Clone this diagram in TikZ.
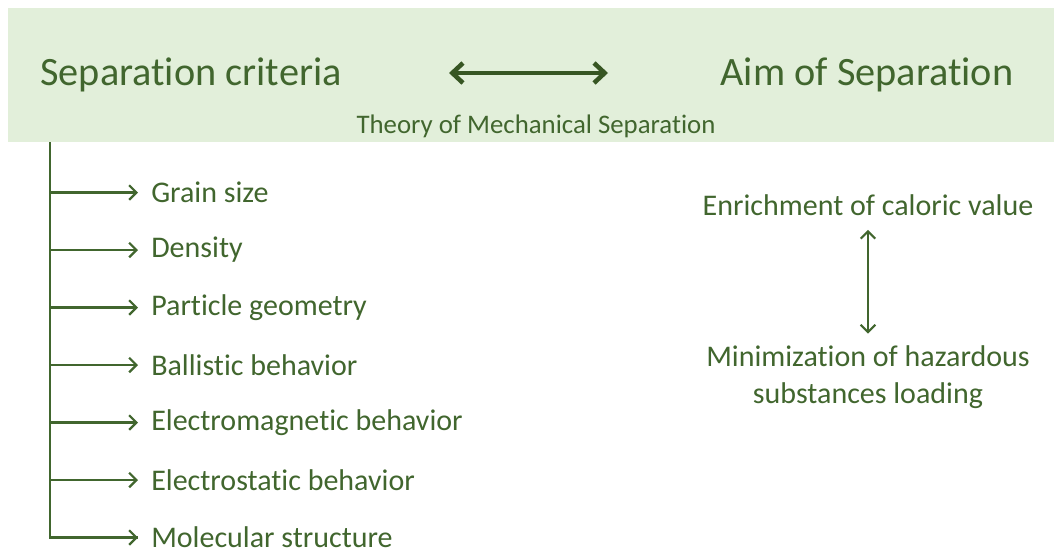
\documentclass[tikz,border=0pt]{standalone}
\usepackage{fontspec}
\setmainfont{Carlito}[Ligatures=NoCommon]
\usetikzlibrary{arrows.meta,positioning}

\definecolor{leaf}{HTML}{41662E}
\definecolor{darkleaf}{HTML}{375623}
\definecolor{band}{HTML}{E2EFDA}

\begin{document}
\begin{tikzpicture}[x=0.75pt,y=-0.75pt,>={Straight Barb[length=5.5pt,width=11pt]},
                    every node/.style={text=leaf},
                    title/.style={font=\fontsize{30.2}{34}\selectfont},
                    item/.style={font=\fontsize{22.5}{26}\selectfont,anchor=west,inner sep=0pt},
                    aim/.style={font=\fontsize{22.5}{27.7}\selectfont,align=center,inner sep=0pt},
                    link/.style={leaf,line width=1.6pt}]

  \useasboundingbox (0,0) rectangle (1054,550);
  \node[fill=band,anchor=north west,inner sep=0pt,minimum width=784.5pt,
        minimum height=100.5pt] (band) at (8,8) {};

  \node[title] (crit) at (191,75) {Separation criteria};
  \node[title] (aims) at (867,75) {Aim of Separation};
  \node[font=\fontsize{20.1}{23}\selectfont] (theory) at (536,126) {Theory of Mechanical Separation};
  \coordinate (l) at (449,73);
  \coordinate (r) at (608,73);
  \draw[{Straight Barb[length=8pt,width=15pt]}-{Straight Barb[length=8pt,width=15pt]},
        darkleaf,line width=3.4pt,line cap=round,line join=round] (l) -- (r);

  % criteria list
  \foreach \t [count=\i] in {Grain size,Density,Particle geometry,Ballistic behavior,
      Electromagnetic behavior,Electrostatic behavior,Molecular structure}
    \node[item] (c\i) at (151,{192.5+57.5*(\i-1)}) {\t};

  \coordinate (top) at (50,142);
  \draw[link] (top) |- ([xshift=-9.75pt]c7.west);
  \foreach \i in {1,...,7}
    \draw[link,->] (top |- c\i.west) -- ([xshift=-9.75pt]c\i.west);

  % aims
  \node[aim] (enrich) at (868,205) {Enrichment of caloric value};
  \node[aim] (minim) at (868,377) {Minimization of hazardous\\substances loading};
  \draw[link,<->] ([yshift=-10.5pt]enrich.south) -- ([yshift=8.75pt]minim.north);
\end{tikzpicture}
\end{document}
